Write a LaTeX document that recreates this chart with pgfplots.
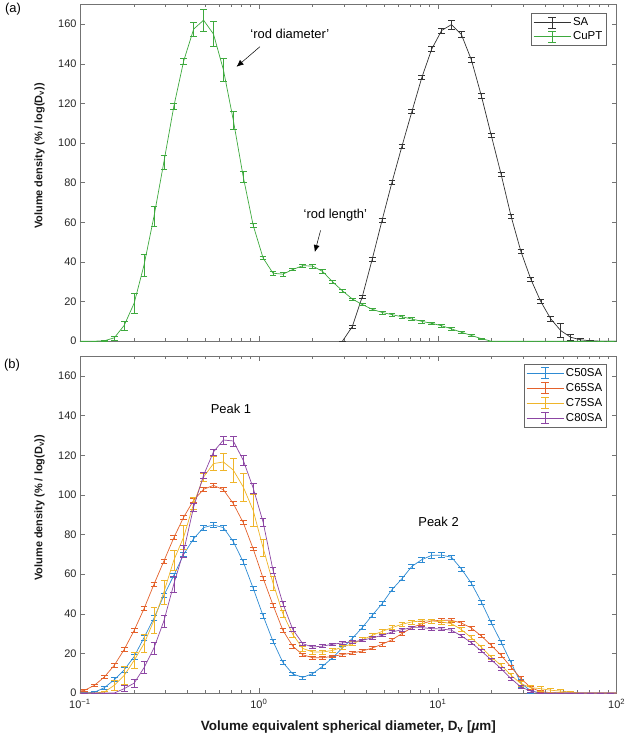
\documentclass[border=0pt]{standalone}
\usepackage{fontspec}
\setmainfont{Liberation Sans}
\usepackage{pgfplots}
\usepackage{pgfplotstable}
\pgfplotsset{compat=1.18}
\usetikzlibrary{arrows.meta}

\definecolor{saK}{HTML}{333333}
\definecolor{cuG}{HTML}{3DA93D}
\definecolor{mBlue}{HTML}{2E8BD3}
\definecolor{mOrange}{HTML}{E4612B}
\definecolor{mYellow}{HTML}{EFB52A}
\definecolor{mPurple}{HTML}{8C45A3}

\pgfplotsset{
  ebar/.style={line width=0.7bp,
    /pgfplots/error bars/y dir=both,
    /pgfplots/error bars/y explicit,
    /pgfplots/error bars/error bar style={line width=0.55bp},
    /pgfplots/error bars/error mark options={rotate=90, mark size=3.4bp, line width=0.55bp}},
}

% x = bin centres (um), y = volume density, e = half error bar
\pgfplotstableread{
x y e
0.0934 0 0
0.1061 0 0
0.1205 0 0
0.1369 0.2 0.2
0.1556 1.7 1.0
0.1768 8.0 2.3
0.2009 19.2 4.9
0.2282 38.5 5.5
0.2593 63.0 5.0
0.2946 90.5 3.5
0.3347 118.5 1.7
0.3802 141.5 1.5
0.4320 157.5 3.7
0.4908 162.0 5.6
0.5576 155.0 6.4
0.6335 137.0 6.0
0.7198 111.5 4.5
0.8177 83.0 2.7
0.9292 58.5 1.0
1.0557 42.0 0.8
1.1995 34.3 1.0
1.3627 33.8 1.0
1.5483 36.2 0.5
1.7591 38.1 0.6
1.9986 37.9 1.0
2.2707 35.2 1.0
2.5798 30.0 0.8
2.9311 25.4 0.6
3.3301 21.3 0.6
3.7835 18.5 0.5
4.2986 16.1 0.7
4.8838 14.5 0.8
5.5487 13.4 0.7
6.3042 12.3 0.8
7.1625 11.2 0.8
8.1376 10.0 0.8
9.2454 9.0 0.7
10.504 7.8 0.7
11.934 6.2 0.6
13.559 4.5 0.5
15.405 2.9 0.4
17.502 1.3 0.3
19.885 0 0
22.592 0 0
25.668 0 0
29.163 0 0
33.133 0 0
37.644 0 0
42.769 0 0
48.591 0 0
55.207 0 0
62.723 0 0
71.262 0 0
80.963 0 0
91.986 0 0
104.51 0 0
}\cupt

\pgfplotstableread{
x y e
2.9311 0 0
3.3301 7.4 0.8
3.7835 22.4 0.9
4.2986 41.3 0.9
4.8838 61.1 1.0
5.5487 80.3 1.0
6.3042 98.4 1.0
7.1625 115.8 1.0
8.1376 133.0 1.0
9.2454 147.4 1.2
10.504 156.8 1.3
11.934 159.8 2.2
13.559 154.7 1.5
15.405 142.0 1.3
17.502 124.0 1.2
19.885 104.0 1.0
22.592 84.2 1.0
25.668 63.1 1.0
29.163 45.2 1.0
33.133 31.2 1.0
37.644 20.0 1.0
42.769 11.3 1.2
48.591 5.4 3.5
55.207 2.0 1.5
62.723 0.7 0.7
71.262 0.2 0.2
80.963 0 0
91.986 0 0
104.51 0 0
}\sa

\pgfplotstableread{
x y e
0.0934 0 0
0.1061 0 0.3
0.1205 0.4 0.4
0.1369 2.7 0.6
0.1556 6.7 1.0
0.1768 11.7 1.2
0.2009 18.4 1.3
0.2282 28.0 1.3
0.2593 37.8 1.3
0.2946 49.3 1.2
0.3347 59.4 1.2
0.3802 70.0 1.2
0.4320 77.9 1.2
0.4908 83.5 1.2
0.5576 84.8 1.3
0.6335 83.5 1.2
0.7198 76.4 1.2
0.8177 66.2 1.2
0.9292 52.9 1.2
1.0557 39.0 1.2
1.1995 26.1 1.0
1.3627 15.4 1.0
1.5483 9.6 0.8
1.7591 7.9 0.8
1.9986 9.8 0.8
2.2707 13.5 0.8
2.5798 17.8 0.8
2.9311 22.7 0.8
3.3301 27.6 0.9
3.7835 33.0 1.0
4.2986 39.2 1.0
4.8838 45.1 1.0
5.5487 52.2 1.0
6.3042 57.7 1.0
7.1625 63.9 1.1
8.1376 67.3 1.2
9.2454 69.5 1.3
10.504 69.6 1.3
11.934 68.5 1.0
13.559 62.6 1.0
15.405 55.4 1.0
17.502 46.0 1.0
19.885 35.5 1.0
22.592 25.7 1.0
25.668 15.3 1.3
29.163 5.0 2.0
33.133 1.0 1.0
37.644 0 0
42.769 0 0
48.591 0 0
55.207 0 0
62.723 0 0
71.262 0 0
80.963 0 0
91.986 0 0
104.51 0 0
}\cfifty

\pgfplotstableread{
x y e
0.0934 0.5 0.4
0.1061 1.4 0.5
0.1205 3.9 0.6
0.1369 8.1 0.7
0.1556 14.0 0.8
0.1768 22.0 0.9
0.2009 31.6 1.0
0.2282 42.6 1.0
0.2593 54.9 1.0
0.2946 66.6 1.0
0.3347 78.4 1.0
0.3802 88.8 1.0
0.4320 97.3 1.0
0.4908 102.8 1.0
0.5576 104.8 1.0
0.6335 102.6 1.0
0.7198 95.6 1.0
0.8177 86.0 1.0
0.9292 72.8 1.0
1.0557 58.0 1.0
1.1995 44.4 1.0
1.3627 31.6 1.0
1.5483 23.6 0.9
1.7591 19.3 0.8
1.9986 17.8 0.7
2.2707 17.8 0.7
2.5798 18.5 0.7
2.9311 19.4 0.7
3.3301 20.2 0.7
3.7835 21.2 0.7
4.2986 22.7 0.7
4.8838 24.6 0.8
5.5487 26.9 0.8
6.3042 30.0 0.8
7.1625 33.0 0.9
8.1376 35.0 1.0
9.2454 36.4 1.0
10.504 36.7 1.0
11.934 36.7 1.0
13.559 35.3 1.0
15.405 32.8 0.9
17.502 28.8 0.9
19.885 24.1 0.9
22.592 19.0 0.9
25.668 13.1 0.9
29.163 7.3 0.9
33.133 2.7 0.8
37.644 0.7 0.5
42.769 0.2 0.2
48.591 0 0
55.207 0 0
62.723 0 0
71.262 0 0
80.963 0 0
91.986 0 0
104.51 0 0
}\csixtyfive

\pgfplotstableread{
x y e
0.0934 0 0
0.1061 0 0
0.1205 0 0
0.1369 0.5 0.5
0.1556 3.9 2.5
0.1768 8.9 4.5
0.2009 16.5 4.2
0.2282 24.9 4.5
0.2593 36.7 6.5
0.2946 51.0 6.0
0.3347 67.0 5.0
0.3802 78.8 6.0
0.4320 95.6 3.0
0.4908 109.0 2.0
0.5576 115.8 3.5
0.6335 116.6 4.2
0.7198 112.5 6.0
0.8177 104.0 7.0
0.9292 92.2 8.0
1.0557 73.3 4.5
1.1995 55.5 3.5
1.3627 40.0 2.0
1.5483 29.5 1.5
1.7591 22.5 1.2
1.9986 20.7 1.0
2.2707 20.7 1.0
2.5798 21.5 1.0
2.9311 23.2 1.0
3.3301 24.9 1.0
3.7835 26.9 1.0
4.2986 29.1 1.0
4.8838 31.1 1.0
5.5487 33.0 1.0
6.3042 34.7 1.0
7.1625 35.9 1.0
8.1376 36.4 1.0
9.2454 36.4 1.0
10.504 35.9 1.0
11.934 35.0 1.0
13.559 32.0 1.0
15.405 27.9 1.0
17.502 23.2 1.0
19.885 18.2 1.0
22.592 14.0 1.0
25.668 9.0 1.0
29.163 4.7 1.2
33.133 2.7 1.2
37.644 2.2 1.2
42.769 1.4 1.0
48.591 1.0 0.8
55.207 0.5 0.5
62.723 0 0
71.262 0 0
80.963 0 0
91.986 0 0
104.51 0 0
}\cseventyfive

\pgfplotstableread{
x y e
0.0934 0 0
0.1061 0 0
0.1205 0 0
0.1369 0 0
0.1556 0 0
0.1768 2.2 1.5
0.2009 5.0 2.0
0.2282 12.8 3.0
0.2593 22.8 3.0
0.2946 36.4 3.0
0.3347 55.0 4.0
0.3802 71.7 3.0
0.4320 93.9 2.0
0.4908 109.9 1.5
0.5576 121.7 1.5
0.6335 127.7 2.0
0.7198 127.2 2.5
0.8177 117.5 2.5
0.9292 103.5 2.5
1.0557 86.3 2.0
1.1995 62.0 1.5
1.3627 45.1 1.2
1.5483 32.0 1.0
1.7591 24.9 0.8
1.9986 23.2 0.7
2.2707 23.7 0.7
2.5798 24.6 0.7
2.9311 25.3 0.7
3.3301 25.8 0.7
3.7835 26.6 0.7
4.2986 27.8 0.7
4.8838 29.1 0.7
5.5487 30.8 0.7
6.3042 32.0 0.8
7.1625 33.0 0.8
8.1376 33.0 0.8
9.2454 32.5 0.8
10.504 32.3 0.8
11.934 31.7 0.8
13.559 28.8 0.8
15.405 25.4 0.8
17.502 21.2 0.8
19.885 16.8 0.8
22.592 12.3 0.8
25.668 7.3 0.8
29.163 3.0 0.8
33.133 1.0 0.6
37.644 0 0
42.769 0 0
48.591 0 0
55.207 0 0
62.723 0 0
71.262 0 0
80.963 0 0
91.986 0 0
104.51 0 0
}\ceighty

\begin{document}
\begin{tikzpicture}
\path (-80bp,-46bp) rectangle (547bp,693bp);

% (a)
\begin{axis}[at={(0bp,352bp)},
  xmode=log, xmin=0.1, xmax=100, ymin=0, ymax=170,
  scale only axis, width=537bp, height=337bp,
  xtick={0.1,1,10,100}, xticklabels={},
  minor xtick={0.2,0.3,0.4,0.5,0.6,0.7,0.8,0.9,2,3,4,5,6,7,8,9,20,30,40,50,60,70,80,90},
  ytick={0,20,...,160},
  tick align=inside, major tick length=5bp, minor tick length=3bp,
  axis line style={black!55, line width=0.5bp},
  every tick/.style={black!55, line width=0.5bp},
  tick label style={font=\fontsize{11}{13}\selectfont, text=black!85},
  /pgf/number format/assume math mode=true,
  label style={font=\bfseries\fontsize{11}{13}\selectfont, text=black!90},
  ylabel={Volume density (\% / log(D\textsubscript{v}))},
  ylabel style={at={(axis description cs:-0.0754,0.55)}, anchor=center},
  legend image code/.code={
    \draw[#1, line width=0.7bp] (0bp,0bp) -- (37bp,0bp);
    \draw[#1, line width=0.6bp] (18.5bp,-5.5bp) -- (18.5bp,5.5bp)
      (14.5bp,-5.5bp) -- (22.5bp,-5.5bp) (14.5bp,5.5bp) -- (22.5bp,5.5bp);
  },
  legend cell align=left,
  legend style={at={(rel axis cs:0.981,0.973)}, anchor=north east,
    draw=black!60, line width=0.5bp, fill=white,
    font=\fontsize{11.5}{13}\selectfont, inner sep=2bp, row sep=0.5bp},
]
\addplot[saK, ebar] table[x=x, y=y, y error=e] {\sa};
\addlegendentry{SA}
\addplot[cuG, ebar] table[x=x, y=y, y error=e] {\cupt};
\addlegendentry{CuPT}
\node[font=\fontsize{13}{15}\selectfont] at (axis cs:1.49,155) {‘rod diameter’};
\draw[-{Latex[length=7bp,width=6bp]}, line width=0.5bp] (axis cs:1.013,148.6) -- (axis cs:0.7506,138.5);
\node[font=\fontsize{13}{15}\selectfont] at (axis cs:2.676,63.5) {‘rod length’};
\draw[-{Latex[length=7bp,width=6bp]}, line width=0.5bp] (axis cs:2.212,55.9) -- (axis cs:2.055,45);
\end{axis}

% (b)
\begin{axis}[at={(0bp,0bp)},
  xmode=log, xmin=0.1, xmax=100, ymin=0, ymax=170,
  scale only axis, width=537bp, height=337bp,
  xtick={0.1,1,10,100},
  xticklabels={10\textsuperscript{−1},10\textsuperscript{0},10\textsuperscript{1},10\textsuperscript{2}},
  xticklabel style={yshift=-3bp},
  minor xtick={0.2,0.3,0.4,0.5,0.6,0.7,0.8,0.9,2,3,4,5,6,7,8,9,20,30,40,50,60,70,80,90},
  ytick={0,20,...,160},
  tick align=inside, major tick length=5bp, minor tick length=3bp,
  axis line style={black!55, line width=0.5bp},
  every tick/.style={black!55, line width=0.5bp},
  tick label style={font=\fontsize{11}{13}\selectfont, text=black!85},
  /pgf/number format/assume math mode=true,
  label style={font=\bfseries\fontsize{11}{13}\selectfont, text=black!90},
  xlabel={Volume equivalent spherical diameter, D\textsubscript{v} [\textit{µ}m]},
  xlabel style={font=\bfseries\fontsize{13.5}{16}\selectfont, at={(axis description cs:0.5,-0.101)}, anchor=center},
  ylabel={Volume density (\% / log(D\textsubscript{v}))},
  ylabel style={at={(axis description cs:-0.0754,0.55)}, anchor=center},
  legend image code/.code={
    \draw[#1, line width=0.7bp] (0bp,0bp) -- (37bp,0bp);
    \draw[#1, line width=0.6bp] (18.5bp,-5.5bp) -- (18.5bp,5.5bp)
      (14.5bp,-5.5bp) -- (22.5bp,-5.5bp) (14.5bp,5.5bp) -- (22.5bp,5.5bp);
  },
  legend cell align=left,
  legend style={at={(rel axis cs:0.981,0.976)}, anchor=north east,
    draw=black!60, line width=0.5bp, fill=white,
    font=\fontsize{11.5}{13}\selectfont, inner sep=2bp, row sep=1.5bp},
]
\addplot[mBlue, ebar] table[x=x, y=y, y error=e] {\cfifty};
\addlegendentry{C50SA}
\addplot[mOrange, ebar] table[x=x, y=y, y error=e] {\csixtyfive};
\addlegendentry{C65SA}
\addplot[mYellow, ebar] table[x=x, y=y, y error=e] {\cseventyfive};
\addlegendentry{C75SA}
\addplot[mPurple, ebar] table[x=x, y=y, y error=e] {\ceighty};
\addlegendentry{C80SA}
\node[font=\fontsize{13}{15}\selectfont] at (axis cs:0.698,143.6) {Peak 1};
\node[font=\fontsize{13}{15}\selectfont] at (axis cs:10.1,86.3) {Peak 2};
\end{axis}

\node[font=\fontsize{13}{15}\selectfont] at (-67bp,684bp) {(a)};
\node[font=\fontsize{13}{15}\selectfont] at (-68bp,328bp) {(b)};
\end{tikzpicture}
\end{document}
